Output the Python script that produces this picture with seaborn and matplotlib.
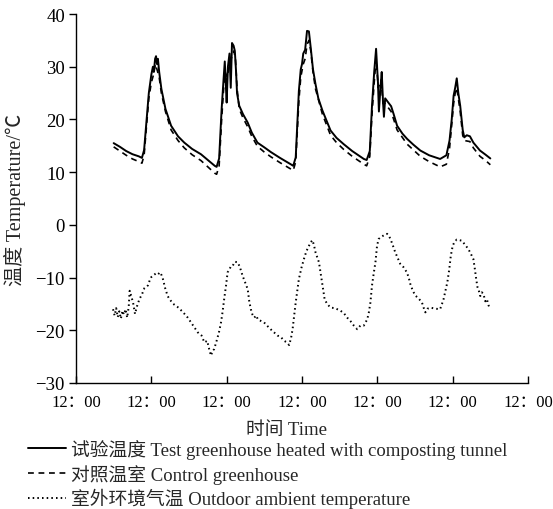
import pandas as pd
import matplotlib
matplotlib.use("Agg")
import matplotlib.pyplot as plt
import seaborn as sns

# hours from the first 12:00 tick, temperatures in degC
test_hours = [12, 14, 16, 18, 20, 21, 21.7, 22.5, 23.2, 24, 24.5, 24.8, 25.2, 25.5, 25.8,
              26.1, 26.5, 27.2, 28.5, 30.3, 32.5, 34.5, 37, 39.8, 42, 44.2, 44.8, 45.6,
              46.4, 47.0, 47.4, 47.7, 48.0, 48.4, 48.9, 49.3, 49.7, 50.2, 50.6, 51.0, 51.3,
              52.0, 53.2, 54.7, 56.0, 57.8, 60, 62.1, 65, 68.4, 69.2, 70.0, 71.0, 71.6,
              72.0, 72.4, 73.0, 73.6, 74.2, 74.8, 75.5, 76.3, 77.2, 78.5, 80, 81.1, 83,
              85.3, 88, 91.7, 92.6, 93.6, 94.3, 95.0, 95.6, 96.2, 96.5, 97.0, 97.4, 97.8,
              98.1, 98.5, 99.5, 100.4, 101.2, 102.3, 104, 105.5, 107.5, 109.7, 112.5, 116,
              118.0, 119.0, 119.7, 120.3, 120.8, 121.3, 121.8, 122.4, 123.2, 123.7, 124.5,
              125.5, 126.6, 128.7, 130.5, 132]
test_temp = [15.5, 14.8, 14.0, 13.4, 13.0, 12.7, 14.2, 20, 25, 28.5, 30.0, 29.0, 31.5, 32.0, 30.5,
             31.5, 29, 25.8, 22, 18.8, 16.8, 15.6, 14.4, 13.4, 12.3, 11.2, 11.0, 12.6,
             22, 27.5, 31.0, 27, 23.2, 30, 32.5, 26, 34.5, 34.0, 33.0, 29, 25,
             22.6, 21, 19.4, 17.5, 15.6, 14.7, 13.8, 12.7, 11.5, 11.2, 12.8, 25.4, 29.5,
             30.5, 32.5, 33.2, 36.8, 36.7, 33.5, 29.5, 26.7, 24, 21.7, 19.5, 17.9, 16.5,
             15.3, 14.0, 12.5, 12.3, 14.0, 22.6, 29, 33.4, 27, 21.5, 26, 29.0, 23.5,
             20.5, 24, 23.2, 22.5, 21, 18.8, 17.3, 16.3, 15.2, 14.1, 13.2, 12.5,
             13.2, 16, 20, 24.5, 26, 27.8, 25, 22.6, 18, 16.6, 17.0,
             16.8, 15.6, 14.1, 13.3, 12.6]

control_hours = [12, 14, 16, 18, 20, 21, 21.7, 22.5, 23.2, 24, 24.7, 25.3, 25.8, 26.5, 27.2,
                 28.5, 30.3, 32.5, 34.5, 37, 39.8, 42, 44.2, 44.8, 45.6, 46.4, 47.0, 47.5,
                 48.2, 48.9, 49.7, 50.3, 50.8, 51.3, 52.0, 53.2, 54.7, 56.0, 57.8, 60, 62.1,
                 65, 68.4, 69.2, 70.0, 71.0, 71.6, 72.4, 73.0, 73.6, 74.2, 74.8, 75.5, 76.3,
                 78.5, 81.1, 83, 85.3, 88, 91.7, 92.6, 93.6, 94.3, 95.0, 95.6, 96.3, 97.2,
                 97.8, 98.5, 100.4, 102.3, 105.5, 109.7, 112.5, 116, 118.0, 119.0, 119.7,
                 120.3, 120.8, 121.3, 121.8, 122.4, 123.2, 123.7, 125.5, 126.6, 128.7, 130.5, 132]
control_temp = [14.8, 14.0, 13.2, 12.5, 12.0, 11.7, 13.2, 19, 24, 27, 28.5, 30.5, 29.5, 28, 25,
                21.5, 18, 16, 14.6, 13.3, 12.2, 11.0, 9.8, 9.6, 11.2, 20, 25.5, 29,
                28, 30.5, 32.0, 33.0, 31.5, 26, 22, 20.3, 18.6, 16.8, 14.9, 13.8, 12.9,
                11.8, 10.6, 10.3, 12.0, 23.5, 28, 30.5, 31.5, 34.2, 35.0, 33, 29, 25.8,
                21, 17.0, 15.6, 14.3, 13.0, 11.5, 11.2, 13, 21, 27, 31.5, 26, 27.5,
                23, 23, 21.5, 18, 15.3, 13.0, 12.0, 11.0, 11.5, 14.5, 19,
                23, 25, 26, 24, 21.5, 17, 16, 15.8, 14.6, 13.0, 12.2, 11.4]

outdoor_hours = [11.8, 12.3, 12.8, 13.3, 13.8, 14.3, 14.8, 15.3, 15.8, 16.3, 16.8, 17.1, 17.6,
                 18.2, 18.8, 19.4, 20.2, 21.0, 21.8, 22.9, 23.5, 24.0, 24.8, 25.5, 26.1, 26.8,
                 27.3, 27.7, 28.4, 29.2, 29.8, 31.0, 32.4, 34.0, 35.6, 37.2, 38.8, 40.0, 40.9,
                 41.8, 42.4, 43.0, 43.6, 44.0, 44.8, 45.5, 46.2, 46.7, 47.2, 47.8, 48.3, 48.8,
                 49.3, 49.9, 50.6, 51.5, 52.2, 53.1, 53.8, 54.7, 55.2, 55.7, 56.2, 56.8, 57.4,
                 58.0, 58.8, 59.9, 61.0, 62.0, 63.1, 64.2, 65.3, 66.3, 67.2, 67.9, 68.5, 69.0,
                 69.5, 70.0, 70.5, 71.0, 71.8, 72.6, 73.4, 74.2, 74.8, 75.3, 75.8, 76.3, 77.4,
                 77.9, 78.3, 78.8, 79.2, 80.0, 81.1, 82.5, 84.3, 85.4, 86.4, 87.5, 88.5, 89.6,
                 90.6, 91.7, 92.8, 93.3, 93.8, 94.3, 94.9, 95.4, 95.9, 96.4, 97.0, 98.0, 99.1,
                 99.6, 100.2, 101.0, 101.7, 102.5, 103.3, 104.3, 105.4, 106.0, 106.5, 107.3,
                 108.1, 109.2, 110.2, 110.8, 111.3, 112.0, 112.9, 114.5, 116.0, 116.6, 117.1,
                 117.7, 118.3, 118.9, 119.4, 120.0, 120.6, 121.3, 122.1, 122.9, 124.0, 125.0,
                 125.8, 126.6, 127.1, 127.5, 127.9, 128.2, 128.8, 129.3, 129.8, 130.4, 130.9,
                 131.4, 131.9]
outdoor_temp = [-16.0, -17.2, -15.8, -17.5, -16.4, -17.8, -16.3, -17.0, -16.0, -17.6, -15.5, -12.5, -13.5,
                -14.8, -16.9, -15.5, -14.1, -13.2, -12.0, -11.5, -10.5, -9.9, -9.5, -9.2, -9.4, -9.0,
                -9.6, -10.3, -12.0, -13.5, -14.1, -15.0, -15.6, -16.5, -17.6, -19.0, -20.4, -21.0, -22.3,
                -22.0, -23.5, -24.8, -23.8, -23.6, -22.0, -20.5, -18.5, -16.5, -14.1, -11.5, -9.0, -8.6,
                -7.9, -7.8, -7.0, -7.1, -8.0, -9.7, -10.8, -12.2, -14.5, -16.0, -17.0, -17.6, -17.2,
                -18.0, -18.2, -18.5, -19.2, -19.8, -20.4, -21.0, -21.3, -22.0, -22.3, -22.8, -21.5, -19.8,
                -17.2, -14.7, -12.5, -10.3, -8.2, -6.5, -5.0, -4.0, -3.3, -2.9, -3.8, -5.2, -7.1,
                -9.0, -10.6, -12.5, -14.1, -15.0, -15.7, -15.8, -16.3, -16.8, -17.6, -18.3, -19.1, -19.8,
                -19.1, -19.1, -17.9, -16.6, -14.7, -11.5, -9.0, -7.1, -4.0, -2.7, -2.4, -2.0, -1.7,
                -2.0, -2.7, -4.0, -5.2, -6.3, -7.4, -8.0, -9.0, -10.0, -11.2, -12.5,
                -13.4, -14.0, -14.7, -15.8, -16.6, -15.9, -15.7, -15.9, -16.0, -15.0, -14.1,
                -12.5, -10.9, -8.5, -5.9, -4.0, -3.2, -2.8, -2.9, -3.0, -3.8, -4.6,
                -5.5, -6.5, -8.5, -10.3, -11.8, -12.2, -13.5, -12.8, -13.1, -14.5, -14.1,
                -15.2, -16.0]

x_ticks = [0, 24, 48, 72, 96, 120, 144]
x_tick_labels = ["12：00"] * 7
y_ticks = [-30, -20, -10, 0, 10, 20, 30, 40]

labels = ["试验温度 Test greenhouse heated with composting tunnel",
          "对照温室 Control greenhouse",
          "室外环境气温 Outdoor ambient temperature"]

sns.set_style("ticks")
plt.rcParams["font.family"] = ["Liberation Serif", "Noto Sans CJK SC", "DejaVu Sans"]
plt.rcParams["font.size"] = 13.5

fig = plt.figure(figsize=(5.53, 5.10), dpi=100)
ax = fig.add_axes([76 / 553, 1 - 384 / 510, (528 - 76) / 553, (384 - 15) / 510])

test_df = pd.DataFrame({"hour": test_hours, "temp": test_temp})
control_df = pd.DataFrame({"hour": control_hours, "temp": control_temp})
outdoor_df = pd.DataFrame({"hour": outdoor_hours, "temp": outdoor_temp})

sns.lineplot(data=test_df, x="hour", y="temp", ax=ax, color="black", linewidth=1.4,
             estimator=None, sort=False, label=labels[0])
sns.lineplot(data=control_df, x="hour", y="temp", ax=ax, color="black", linewidth=1.2,
             linestyle=(0, (3.5, 2.8)), estimator=None, sort=False, label=labels[1])
sns.lineplot(data=outdoor_df, x="hour", y="temp", ax=ax, color="black", linewidth=1.4,
             linestyle=(0, (0.8, 1.6)), estimator=None, sort=False, label=labels[2])

ax.set_xlim(0, 144)
ax.set_ylim(-30, 40)
ax.set_xticks(x_ticks)
ax.set_xticklabels(x_tick_labels)
ax.set_yticks(y_ticks)
ax.tick_params(axis="x", direction="in", length=5, width=1, pad=8, colors="black",
               labelsize=12)
ax.tick_params(axis="y", direction="out", length=5, width=1, pad=3, colors="black",
               labelsize=13.5)
sns.despine(ax=ax)
for side in ["left", "bottom"]:
    ax.spines[side].set_color("black")
    ax.spines[side].set_linewidth(1)

ax.set_xlabel("时间 Time", fontsize=13.5)
ax.xaxis.set_label_coords(0.466, -0.104)
ax.set_ylabel("温度 Temperature/℃", fontsize=14.5, va="center")
ax.yaxis.set_label_coords(-0.135, 0.5)

handles, leg_labels = ax.get_legend_handles_labels()
ax.get_legend().remove()
fig.legend(handles, leg_labels, loc="upper left", bbox_to_anchor=(28 / 553, 1 - 440 / 510),
           frameon=False, borderpad=0, borderaxespad=0, handlelength=2.05,
           handletextpad=0.25, labelspacing=0.25, fontsize=13.5)

fig.savefig("out.png", dpi=100)
